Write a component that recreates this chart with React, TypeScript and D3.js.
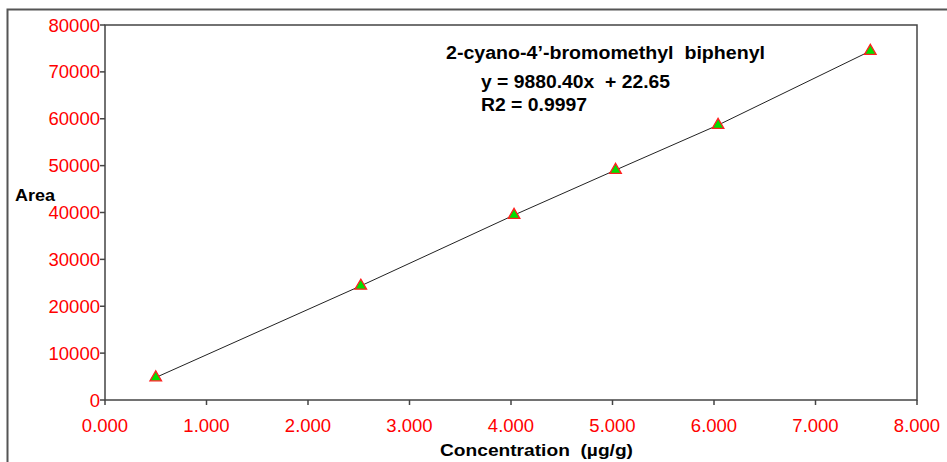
import React from "react";
import * as d3 from "d3";

const concentrations = [0.5, 2.52, 4.03, 5.03, 6.04, 7.54];
const areas = [4800, 24350, 39450, 49050, 58650, 74450];
const xTicks = [0, 1, 2, 3, 4, 5, 6, 7, 8];
const yTicks = [0, 10000, 20000, 30000, 40000, 50000, 60000, 70000, 80000];
const titleText = "2-cyano-4\u2019-bromomethyl  biphenyl";
const eqText = "y = 9880.40x  + 22.65";
const r2Text = "R2 = 0.9997";
const xLabel = "Concentration  (\u00b5g/g)";
const yLabel = "Area";

const W = 947;
const H = 462;
const L = 105, R = 917, T = 25, B = 400;
const FONT = "'Liberation Sans', Arial, sans-serif";

export default function App() {
  const x = d3.scaleLinear().domain([0, 8]).range([L, R]);
  const y = d3.scaleLinear().domain([0, 80000]).range([B, T]);
  const pts = concentrations.map((c, i) => [x(c), y(areas[i])] as [number, number]);
  const line = d3.line().curve(d3.curveLinear)(pts) || "";
  const tri = d3.symbol().type(d3.symbolTriangle).size(58)() || "";
  const pre = { whiteSpace: "pre" as const };

  return (
    <svg width={W} height={H} style={{ position: "absolute", left: 0, top: 0, background: "#fff" }}>
      <rect x={7.5} y={9.5} width={W + 10} height={H + 10} fill="#fff" stroke="#555" strokeWidth={2} />
      <rect x={L} y={T} width={R - L} height={B - T} fill="#fff" stroke="#444" strokeWidth={1.5} />
      {yTicks.map((t) => (
        <g key={"y" + t}>
          <line x1={L - 5} x2={L} y1={y(t)} y2={y(t)} stroke="#444" strokeWidth={1.5} />
          <text x={L - 5} y={y(t) + 6.5} textAnchor="end" fill="#ff0000" fontFamily={FONT} fontSize={18.5}>
            {t}
          </text>
        </g>
      ))}
      {xTicks.map((t) => (
        <g key={"x" + t}>
          <line x1={x(t)} x2={x(t)} y1={B} y2={B + 5} stroke="#444" strokeWidth={1.5} />
          <text x={x(t)} y={B + 32} textAnchor="middle" fill="#ff0000" fontFamily={FONT} fontSize={18.5}>
            {t.toFixed(3)}
          </text>
        </g>
      ))}
      <path d={line} fill="none" stroke="#222" strokeWidth={1} />
      {pts.map((p, i) => (
        <path key={"m" + i} d={tri} transform={`translate(${p[0]},${p[1]})`} fill="#00e000" stroke="#ff2020" strokeWidth={1.3} />
      ))}
      <text x={446} y={59} style={pre} textLength={319} lengthAdjust="spacingAndGlyphs" fontFamily={FONT} fontWeight="bold" fontSize={17.5} fill="#000">{titleText}</text>
      <text x={481} y={88} style={pre} textLength={189} lengthAdjust="spacingAndGlyphs" fontFamily={FONT} fontWeight="bold" fontSize={17.5} fill="#000">{eqText}</text>
      <text x={481} y={111} style={pre} textLength={106} lengthAdjust="spacingAndGlyphs" fontFamily={FONT} fontWeight="bold" fontSize={17.5} fill="#000">{r2Text}</text>
      <text x={15} y={201} textLength={40} lengthAdjust="spacingAndGlyphs" fontFamily={FONT} fontWeight="bold" fontSize={17} fill="#000">{yLabel}</text>
      <text x={440} y={456} style={pre} textLength={193} lengthAdjust="spacingAndGlyphs" fontFamily={FONT} fontWeight="bold" fontSize={17} fill="#000">{xLabel}</text>
    </svg>
  );
}
